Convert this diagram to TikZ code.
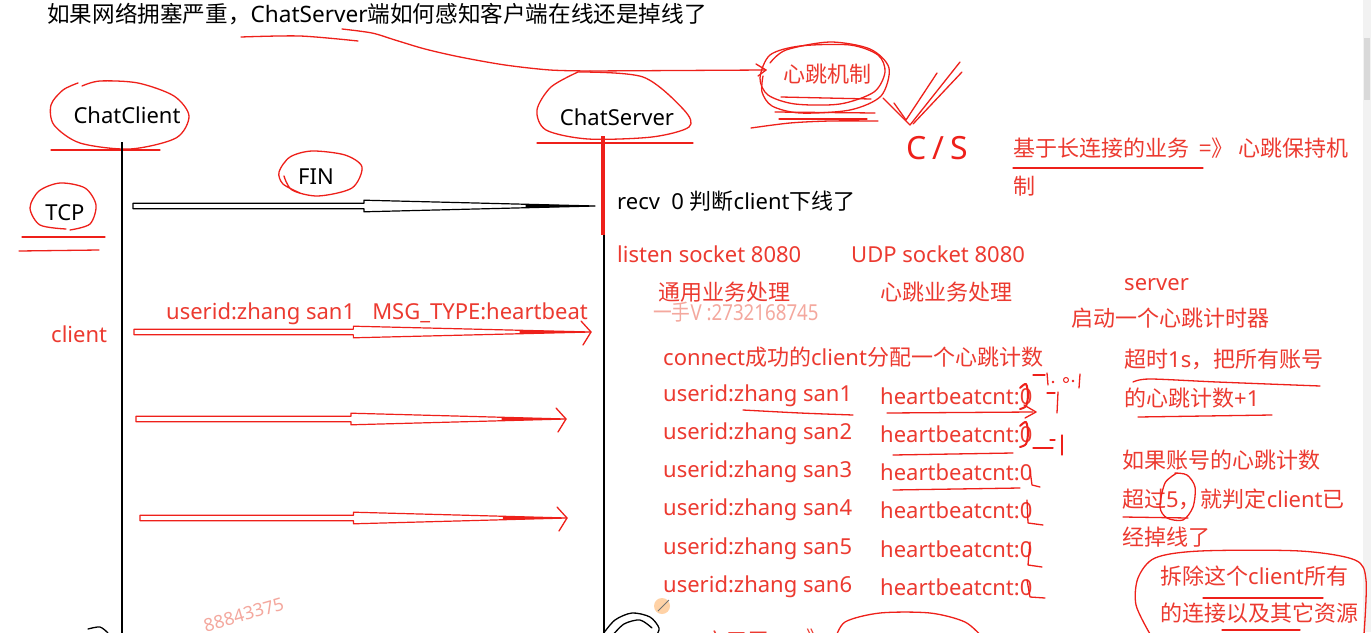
\documentclass[tikz,border=0pt]{standalone}
\usepackage{fontspec}
\setmainfont{Noto Sans}
\newfontfamily\cjk{Noto Sans CJK SC}
\newcommand\zh[1]{{\cjk #1}}
\usetikzlibrary{calc}
\definecolor{tred}{RGB}{236,58,48}
\definecolor{sred}{RGB}{238,32,26}
\definecolor{wm}{RGB}{244,168,158}
\tikzset{
  txt/.style={anchor=west, inner sep=0pt, font=\fontsize{22}{26}\selectfont},
  rtxt/.style={txt, text=tred},
  btxt/.style={txt, text=black},
  ink/.style={draw=sred, line width=1.3pt, line cap=round, line join=round},
  bink/.style={draw=black, line width=1.3pt, line cap=round, line join=round},
  lifeline/.style={draw=black, line width=1.6pt},
}
% pen-drawn hollow arrow: colour, start, end, step fraction
\newcommand\penarrow[4]{%
  \coordinate (pm) at ($(#2)!#4!(#3)$);
  \filldraw[draw=#1, fill=white, line width=1.2pt, line join=round]
    ([yshift=2.8pt]#2) -- ([yshift=2.8pt]pm) -- ([yshift=5.8pt]pm) -- (#3)
    -- ([yshift=-5.8pt]pm) -- ([yshift=-2.8pt]pm) -- ([yshift=-2.8pt]#2) -- cycle;
  \fill[#1] ($(#3)!0.3!(pm)+(0,1.7)$) -- (#3) -- ($(#3)!0.3!(pm)+(0,-1.7)$) -- cycle;
}
\newcommand\openhead[1]{%
  \draw[ink] ([xshift=-10pt,yshift=11pt]#1) -- (#1) -- ([xshift=-8pt,yshift=-13pt]#1);
}
\begin{document}
\begin{tikzpicture}[x=1pt,y=-1pt]
\useasboundingbox (0,0) rectangle (1371,632);
\fill[white] (0,0) rectangle (1371,632);
\begin{scope}
\clip (0,0) rectangle (1371,632);
% scrollbar
\fill[black!5] (1363,0) rectangle (1371,632);
\fill[black!15] (1364,38) rectangle (1370,100);

% ---------- title ----------
\node[btxt, font=\fontsize{22.6}{26}\selectfont] (title) at (47,14) {\zh{如果网络拥塞严重，}ChatServer\zh{端如何感知客户端在线还是掉线了}};
\draw[ink] plot[smooth] coordinates {(241,37) (300,36) (358,41)};

% ---------- heartbeat mechanism ----------
\node[rtxt, anchor=center] (hb) at (827,74) {\zh{心跳机制}};
\coordinate (cs-top) at (590,71);
\coordinate (hb-in) at (766,70);
\draw[ink] plot[smooth] coordinates {(342,29) (372,33) (395,40) (425,49) (460,57) (505,65) (550,70) (590,71)};
\draw[ink] (cs-top) -- (hb-in);
\draw[ink] (756,64) -- (hb-in) -- (758,76);
\draw[ink] plot[smooth cycle] coordinates {(760,78) (770,55) (800,46) (850,45) (878,55) (885,72) (874,92) (840,104) (795,104) (768,95)};
\draw[ink] plot[smooth] coordinates {(770,63) (786,50) (830,42) (870,49) (889,68) (881,96) (850,110) (800,113) (772,106) (762,92) (763,76)};
\draw[ink] (781,97) -- (871,99);
\draw[ink] (775,112) -- (875,113);
\draw[ink] (779,119) -- (867,119);
\draw[ink] plot[smooth] coordinates {(751,128) (790,123) (830,121) (878,121)};
% check mark and C/S
\draw[ink] (883,98) -- (910,125) -- (960,62);
\draw[ink] (894,103) -- (906,120) -- (937,73);
\draw[ink] (962,72) -- (913,124);
\node[inner sep=0pt, text=sred, font=\fontsize{32}{32}\selectfont] (cs) at (937,148) {C\hspace{6pt}/\hspace{6pt}S};

% ---------- long connection note ----------
\node[rtxt] (lc1) at (1013,148) {\zh{基于长连接的业务\ \ =》 心跳保持机}};
\node[rtxt] (lc2) at (1013,186) {\zh{制}};
\draw[ink, line width=1.1pt] (1013,168) -- (1203,168);

% ---------- ChatClient ----------
\node[btxt, anchor=center] (cc) at (127,115) {ChatClient};
\draw[ink] plot[smooth] coordinates {(82,86) (100,81) (138,83) (174,96) (189,116) (176,138) (130,149) (80,143) (54,125) (51,105) (63,90) (78,83)};
\draw[ink] (51,150) -- (160,150);
\coordinate (cl-top) at (122,142);
\coordinate (cl-bot) at (122,640);
\draw[lifeline] (cl-top) -- (cl-bot);

% ---------- ChatServer ----------
\node[btxt, anchor=center] (sv) at (617,117) {ChatServer};
\draw[ink] plot[smooth] coordinates {(578,72) (643,77) (684,110) (689,127) (652,137) (588,139) (546,130) (537,110) (551,87) (578,72)};
\draw[ink] (537,143) -- (693,143);
\coordinate (sv-top) at (604,140);
\coordinate (sv-bot) at (604,640);
\draw[lifeline] (sv-top) -- (sv-bot);
\draw[sred, line width=3.5pt] (603,136) -- (603,235);

% ---------- TCP / FIN ----------
\node[btxt, anchor=center] (tcp) at (65,213) {TCP};
\draw[ink] plot[smooth] coordinates {(66,229) (40,225) (30,208) (39,191) (60,183) (85,188) (96,205) (90,224) (70,230)};
\draw[ink] (22,237) -- (105,237);
\draw[ink] (19,251) -- (99,250);
\node[btxt, anchor=center] (fin) at (316,177) {FIN};
\draw[ink] plot[smooth] coordinates {(300,193) (283,184) (279,172) (290,157) (312,151) (345,155) (362,167) (352,188) (318,196) (292,190) (284,176)};
\coordinate (fin-s) at (133,206);
\coordinate (fin-e) at (595,206);
\penarrow{black}{fin-s}{fin-e}{0.5}

\node[btxt] (recv) at (617,201) {recv\ \ 0 \zh{判断}client\zh{下线了}};

% ---------- server sockets ----------
\node[rtxt] (listen) at (617,254) {listen socket 8080};
\node[rtxt] (udp) at (851,254) {UDP socket 8080};
\node[rtxt] (gen) at (658,292) {\zh{通用业务处理}};
\node[rtxt] (hbp) at (880,292) {\zh{心跳业务处理}};
\node[txt, text=wm, xscale=0.85] (wm1) at (653,312) {\zh{一手}V :2732168745};

\node[rtxt] (server) at (1124,285) {server};
\node[rtxt] (timer) at (1071,318) {\zh{启动一个心跳计时器}};

% ---------- heartbeat messages ----------
\node[rtxt] (client) at (51,334) {client};
\node[rtxt] (msg) at (166,314) {userid:zhang san1\ \ \ MSG\_TYPE:heartbeat};
\coordinate (h1-s) at (134,332);
\coordinate (h1-e) at (591,332);
\coordinate (h2-s) at (136,419);
\coordinate (h2-e) at (566,419);
\coordinate (h3-s) at (140,518);
\coordinate (h3-e) at (567,518);
\penarrow{sred}{h1-s}{h1-e}{0.48}
\openhead{h1-e}
\penarrow{sred}{h2-s}{h2-e}{0.5}
\openhead{h2-e}
\penarrow{sred}{h3-s}{h3-e}{0.5}
\openhead{h3-e}

% ---------- heartbeat counters ----------
\node[rtxt] (conn) at (663,357) {connect\zh{成功的}client\zh{分配一个心跳计数}};
\foreach \i/\y in {1/396,2/434,3/472,4/510,5/549,6/587}{
  \node[rtxt] (u\i) at (663,\y) {userid:zhang san\i};
  \node[rtxt] (c\i) at (880,\y) {heartbeatcnt:0};
}
\draw[ink] plot[smooth] coordinates {(743,410) (800,413) (853,415)};
\draw[ink] (887,413) -- (1033,412);
\draw[ink] (1024,405) -- (1036,412) -- (1025,418);
\draw[ink] (893,455) -- (1013,453);
\draw[ink] (893,490) -- (1020,488);
% scribbled digits over the zeros
\draw[ink, line width=2pt] plot[smooth] coordinates {(1020,388) (1026,384) (1028,395) (1026,406) (1020,409)};
\draw[ink, line width=2pt] plot[smooth] coordinates {(1020,426) (1026,422) (1028,433) (1026,444) (1020,447)};
\draw[ink] (1030,470) -- (1032,485) -- (1040,487);
\draw[ink] (1027,500) -- (1028,523) -- (1043,525);
\draw[ink] (1030,542) -- (1028,565) -- (1042,567);
\draw[ink] (1027,580) -- (1030,597) -- (1045,598);
% small tally marks
\draw[ink] (1033,375) -- (1045,375);
\draw[ink] (1047,373) -- (1048,385);
\fill[sred] (1053,382) circle (1.3pt);
\draw[ink, line width=1pt] (1066,380) circle (2.5pt);
\fill[sred] (1073,381) circle (1.3pt);
\draw[ink] (1080,374) -- (1079,388);
\draw[ink] (1047,393) -- (1055,393);
\draw[ink] (1058,392) -- (1057,413);
\draw[ink] (1050,440) -- (1055,440);
\draw[ink] (1033,448) -- (1053,448);
\draw[ink] (1062,435) -- (1062,455);

% ---------- timer notes ----------
\node[rtxt] (t1) at (1124,359) {\zh{超时}1s\zh{，把所有账号}};
\node[rtxt] (t2) at (1124,398) {\zh{的心跳计数}+1};
\draw[ink] plot[smooth] coordinates {(1133,382) (1150,379) (1217,382) (1320,386)};
\draw[ink] (1138,417) -- (1272,415);
\node[rtxt] (d1) at (1122,460) {\zh{如果账号的心跳计数}};
\node[rtxt] (d2) at (1122,499) {\zh{超过}5\zh{，就判定}client\zh{已}};
\node[rtxt] (d3) at (1122,537) {\zh{经掉线了}};
\draw[ink] (1123,517) -- (1188,518);
\draw[ink] plot[smooth] coordinates {(1177,473) (1165,483) (1160,507) (1167,518) (1183,520) (1193,507) (1195,487) (1187,475) (1175,473)};
\node[rtxt] (r1) at (1160,576) {\zh{拆除这个}client\zh{所有}};
\node[rtxt] (r2) at (1160,613) {\zh{的连接以及其它资源}};
\draw[ink] plot[smooth] coordinates {(1150,634) (1136,605) (1138,578) (1155,558) (1200,551) (1300,551) (1355,560) (1366,580) (1364,634)};
\draw[ink] (1203,598) -- (1323,598);
\draw[ink] (1222,630) -- (1300,630);

% ---------- bottom, partly cut ----------
\node[txt, text=wm, rotate=16, font=\fontsize{18}{18}\selectfont] (wm2) at (204,626) {88843375};
\draw[bink] plot[smooth] coordinates {(88,629) (100,627) (108,633)};
\draw[bink] plot[smooth] coordinates {(603,634) (615,620) (632,613) (650,617) (659,628) (656,636)};
\draw[bink] plot[smooth] coordinates {(612,636) (624,624) (640,620) (652,628)};
\fill[orange!35] (662,606) circle (8pt);
\draw[black!55, line width=1pt] (658,611) -- (669,600);
\node[rtxt] (app) at (703,641) {\zh{应用层}};
\node[rtxt] (arr) at (806,639) {\zh{》}};
\draw[ink] plot[smooth] coordinates {(835,640) (845,622) (880,613) (930,613) (965,622) (983,638)};
\end{scope}
\end{tikzpicture}
\end{document}
